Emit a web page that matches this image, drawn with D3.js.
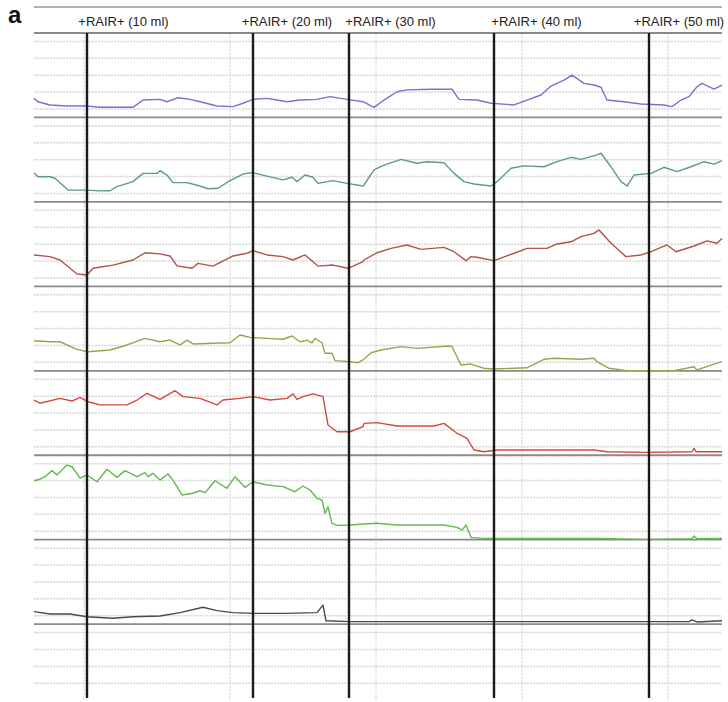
<!DOCTYPE html>
<html><head><meta charset="utf-8">
<script src="https://cdn.jsdelivr.net/npm/d3@7"></script>
<style>html,body{margin:0;padding:0;background:#fff;}svg{display:block;}</style>
</head><body>
<script>
// ---- data (time in s, value in grid divisions above each channel baseline) ----
const eventTimes = [53, 219, 315, 460, 615];
const eventLabels = ["+RAIR+ (10 ml)", "+RAIR+ (20 ml)", "+RAIR+ (30 ml)", "+RAIR+ (40 ml)", "+RAIR+ (50 ml)"];
const labelCenters = [89.5, 253, 356.5, 502.5, 645];
const gridTimes = [50, 196, 342, 488, 634];
const seriesColors = ["#7b6fd6", "#5c9c82", "#b3524b", "#a2a04f", "#d5473d", "#62b94f", "#4a4a4a"];

const purple = [[0,1.13],[4,0.93],[16,0.74],[33,0.68],[53,0.68],[66,0.60],[83,0.60],[99,0.60],[109,1.03],[126,1.07],[133,0.93],[144,1.17],[156,1.07],[166,0.93],[183,0.68],[199,0.64],[209,0.84],[219,1.07],[233,1.13],[243,1.03],[253,0.93],[266,1.03],[283,1.07],[296,1.23],[313,1.07],[329,0.93],[340,0.60],[350,1.03],[363,1.52],[373,1.63],[397,1.67],[418,1.67],[425,1.07],[443,1.03],[457,0.84],[480,0.74],[493,1.03],[507,1.33],[517,1.86],[530,2.21],[538,2.51],[550,2.02],[560,1.92],[567,1.79],[573,1.03],[590,0.93],[607,0.80],[630,0.74],[638,0.64],[647,1.03],[655,1.23],[663,1.82],[668,2.02],[680,1.67],[688,1.92]];
const teal = [[0,1.73],[4,1.49],[16,1.49],[21,1.40],[34,0.70],[53,0.70],[66,0.65],[76,0.66],[83,0.90],[99,1.20],[109,1.69],[123,1.69],[126,1.85],[133,1.59],[139,1.14],[153,1.14],[166,0.94],[174,0.78],[184,0.81],[196,1.26],[209,1.65],[219,1.73],[233,1.53],[249,1.30],[258,1.46],[263,1.20],[271,1.59],[279,1.46],[284,1.10],[299,1.26],[313,1.10],[329,0.94],[330,1.00],[340,1.89],[350,2.18],[367,2.52],[383,2.29],[393,2.38],[410,2.32],[420,1.69],[430,1.20],[440,1.06],[457,0.94],[463,1.20],[477,1.99],[490,2.13],[510,2.08],[523,2.38],[537,2.64],[547,2.52],[563,2.78],[567,2.88],[577,2.08],[587,1.20],[593,0.94],[600,1.59],[617,1.69],[630,2.05],[643,1.79],[657,2.08],[670,2.38],[680,2.24],[688,2.44]];
const brick = [[0,1.86],[16,1.76],[26,1.56],[43,0.73],[53,0.67],[59,1.07],[79,1.26],[99,1.56],[111,1.99],[126,1.92],[136,1.80],[143,1.21],[158,1.07],[164,1.36],[179,1.20],[199,1.80],[213,1.96],[219,2.11],[233,1.86],[249,1.76],[259,1.56],[271,1.86],[284,1.20],[299,1.26],[314,1.07],[329,1.46],[330,1.56],[343,1.99],[357,2.25],[373,2.45],[387,2.19],[410,2.31],[420,2.05],[432,1.52],[437,1.76],[443,1.72],[460,1.52],[480,1.96],[493,2.25],[513,2.25],[523,2.51],[537,2.64],[547,2.94],[560,3.14],[565,3.34],[577,2.55],[592,1.76],[607,1.86],[617,2.05],[633,2.45],[642,2.05],[660,2.39],[673,2.69],[683,2.55],[688,2.84]];
const olive = [[0,1.78],[16,1.72],[26,1.72],[43,1.27],[54,1.13],[76,1.23],[93,1.53],[111,1.92],[126,1.72],[136,1.82],[146,1.53],[153,1.82],[159,1.59],[179,1.63],[196,1.66],[206,2.12],[216,1.98],[233,1.92],[249,1.87],[258,2.06],[266,1.72],[273,1.82],[278,1.66],[281,1.92],[288,1.66],[291,1.04],[298,1.04],[301,0.60],[316,0.54],[324,0.48],[329,0.64],[337,1.07],[347,1.23],[367,1.43],[383,1.33],[415,1.47],[418,1.43],[427,0.34],[437,0.40],[450,0.15],[460,0.11],[493,0.18],[510,0.68],[520,0.74],[547,0.68],[560,0.74],[563,0.54],[575,0.15],[593,0.01],[613,0.00],[640,0.01],[660,0.24],[663,0.05],[677,0.34],[688,0.54]];
const red = [[0,3.27],[6,3.08],[26,3.37],[38,3.21],[46,3.43],[54,3.17],[66,2.98],[93,2.98],[103,3.27],[113,3.67],[126,3.31],[141,3.82],[149,3.47],[166,3.37],[183,2.98],[189,3.27],[206,3.37],[219,3.47],[236,3.27],[253,3.37],[259,3.63],[263,3.31],[269,3.47],[279,3.63],[289,3.47],[294,1.79],[303,1.39],[316,1.39],[329,1.69],[330,1.89],[343,1.93],[363,1.73],[400,1.73],[410,1.89],[423,1.30],[433,1.00],[440,0.31],[450,0.21],[463,0.31],[497,0.31],[560,0.31],[573,0.21],[613,0.17],[658,0.21],[660,0.40],[662,0.21],[688,0.21]];
const green = [[0,3.49],[6,3.58],[11,3.73],[18,4.09],[23,3.83],[33,4.42],[38,4.32],[46,3.64],[53,3.83],[63,3.43],[73,4.17],[83,3.69],[91,4.09],[103,3.73],[111,3.97],[114,3.73],[119,3.93],[126,3.53],[134,3.89],[139,3.53],[148,2.65],[159,2.75],[166,2.90],[171,2.78],[181,3.49],[193,3.04],[201,3.73],[211,3.10],[219,3.43],[233,3.24],[249,3.14],[261,2.84],[269,3.18],[276,2.94],[283,2.45],[288,2.35],[291,1.56],[294,1.95],[298,0.97],[303,0.85],[316,0.87],[329,0.93],[343,0.97],[363,0.87],[410,0.87],[423,0.73],[428,0.57],[432,0.87],[437,0.14],[450,0.08],[563,0.08],[613,0.02],[658,0.06],[660,0.22],[663,0.06],[688,0.08]];
const dark = [[0,0.74],[16,0.60],[36,0.60],[53,0.44],[79,0.35],[99,0.44],[126,0.48],[146,0.68],[169,1.00],[183,0.80],[199,0.68],[219,0.64],[249,0.64],[283,0.68],[289,1.13],[292,0.20],[316,0.15],[400,0.15],[480,0.15],[560,0.15],[655,0.15],[658,0.25],[663,0.13],[688,0.20]];
const seriesList = [purple, teal, brick, olive, red, green, dark];

// ---- drawing ----
const W = 728, H = 702;
const svg = d3.select("body").append("svg").attr("width", W).attr("height", H);
const x = d3.scaleLinear().domain([0, 688]).range([34, 722]);
const row = d3.scaleLinear().domain([0, 40]).range([33, 33 + 40 * 16.89]);

// panel letter
svg.append("text").attr("x", 8).attr("y", 22.5)
  .attr("font-family", "Liberation Sans, Arial, sans-serif").attr("font-weight", "bold")
  .attr("font-size", 24).attr("fill", "#111").text("a");

// header top rule
svg.append("line").attr("x1", x(0)).attr("x2", x(688)).attr("y1", 7).attr("y2", 7)
  .attr("stroke", "#9a9a9a").attr("stroke-width", 1.5);

// dotted horizontal grid
svg.append("g").selectAll("line").data(d3.range(0.5, 39, 1)).join("line")
  .attr("x1", x(0)).attr("x2", x(688)).attr("y1", d => row(d)).attr("y2", d => row(d))
  .attr("stroke", "#d2d2d2").attr("stroke-width", 1.5).attr("stroke-dasharray", "2 1.2");

// faint vertical grid
svg.append("g").selectAll("line").data(gridTimes).join("line")
  .attr("x1", d => x(d)).attr("x2", d => x(d)).attr("y1", row(0)).attr("y2", 700)
  .attr("stroke", "#dedede").attr("stroke-width", 1.5).attr("stroke-dasharray", "2 1.2");

// channel baselines
svg.append("g").selectAll("line").data(d3.range(0, 36, 5)).join("line")
  .attr("x1", x(0)).attr("x2", x(688)).attr("y1", d => row(d)).attr("y2", d => row(d))
  .attr("stroke", "#8a8a8a").attr("stroke-width", d => d === 0 ? 2.2 : 1.8);

// traces
seriesList.forEach((s, i) => {
  const base = 5 * (i + 1);
  const line = d3.line().x(d => x(d[0])).y(d => row(base - d[1]));
  svg.append("path").datum(s).attr("d", line).attr("fill", "none")
    .attr("stroke", seriesColors[i]).attr("stroke-width", 1.4).attr("stroke-linejoin", "round");
});

// event markers
svg.append("g").selectAll("line").data(eventTimes).join("line")
  .attr("x1", d => x(d)).attr("x2", d => x(d)).attr("y1", row(0)).attr("y2", 698)
  .attr("stroke", "#1a1a1a").attr("stroke-width", 2.4);

// event labels
svg.append("g").selectAll("text").data(eventLabels).join("text")
  .attr("x", (d, i) => x(labelCenters[i])).attr("y", 25.5).attr("text-anchor", "middle")
  .attr("font-family", "Liberation Sans, Arial, sans-serif").attr("font-size", 13)
  .attr("fill", "#222").text(d => d);
</script>
</body></html>
